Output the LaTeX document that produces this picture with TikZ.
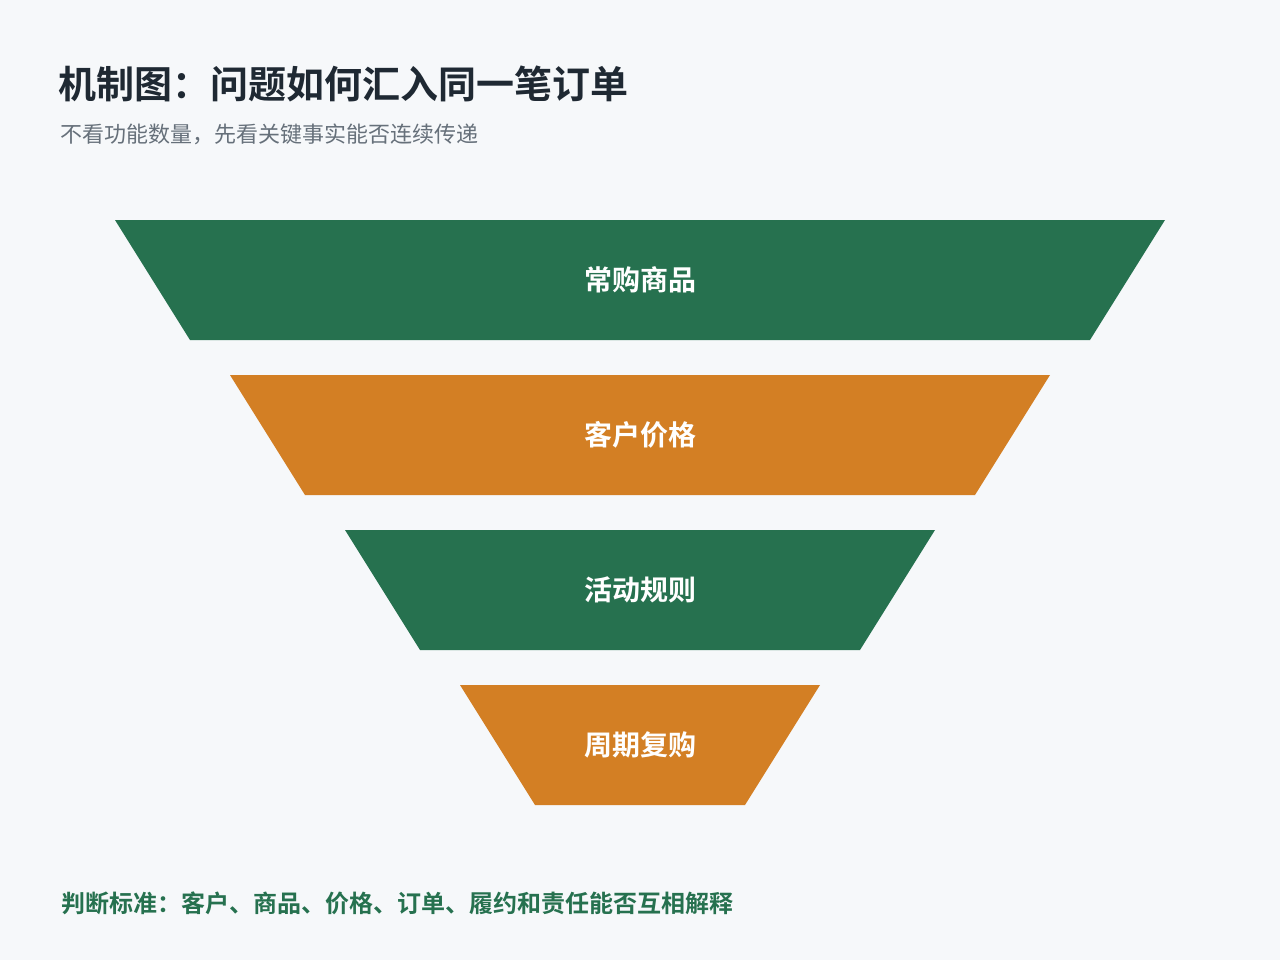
\documentclass[tikz,border=0pt]{standalone}
\usepackage{fontspec}
\newfontfamily\cjk{Noto Sans CJK SC}
\newfontfamily\cjkb{Noto Sans CJK SC Bold}
\definecolor{bg}{HTML}{F6F8FA}
\definecolor{grn}{HTML}{26714F}
\definecolor{org}{HTML}{D37F24}
\definecolor{ttl}{HTML}{1F2933}
\definecolor{sub}{HTML}{66707A}
\begin{document}
\begin{tikzpicture}[x=0.75pt,y=-0.75pt,
 lab/.style={text=white,font=\cjkb\fontsize{21}{24}\selectfont},
 tz/.style={draw=none}]
\fill[bg] (0,0) rectangle (1280,960);
\useasboundingbox (0,0) rectangle (1280,960);
\node[anchor=west,text=ttl,font=\cjkb\fontsize{28.5}{32}\selectfont,inner sep=0] (title) at (58,84) {机制图：问题如何汇入同一笔订单};
\node[anchor=west,text=sub,font=\cjk\fontsize{16.5}{20}\selectfont,inner sep=0] (subt) at (60,134) {不看功能数量，先看关键事实能否连续传递};
\fill[grn] (115,220) -- (1165,220) -- (1090,340) -- (190,340) -- cycle;
\fill[org] (230,375) -- (1050,375) -- (975,495) -- (305,495) -- cycle;
\fill[grn] (345,530) -- (935,530) -- (860,650) -- (420,650) -- cycle;
\fill[org] (460,685) -- (820,685) -- (745,805) -- (535,805) -- cycle;
\node[lab] (l1) at (640,280) {常购商品};
\node[lab] (l2) at (640,435) {客户价格};
\node[lab] (l3) at (640,590) {活动规则};
\node[lab] (l4) at (640,745) {周期复购};
\node[anchor=west,text=grn,font=\cjkb\fontsize{18}{22}\selectfont,inner sep=0] (foot) at (61,903) {判断标准：客户、商品、价格、订单、履约和责任能否互相解释};
\end{tikzpicture}
\end{document}
